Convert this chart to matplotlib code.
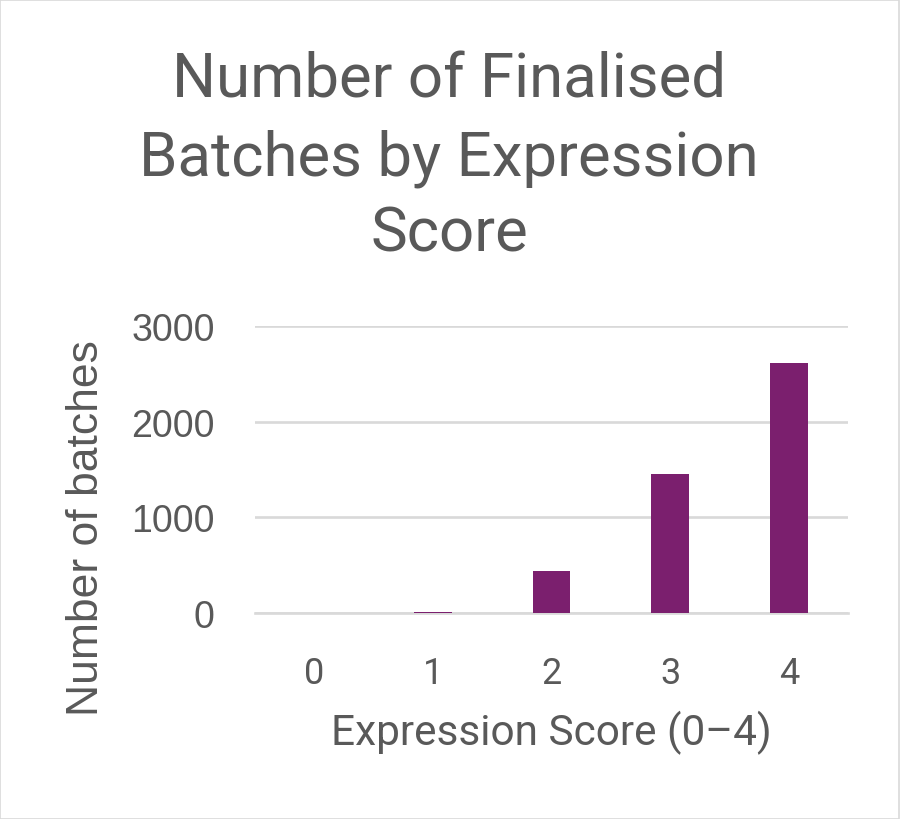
import numpy as np
import matplotlib
matplotlib.use("Agg")
import matplotlib.pyplot as plt
from matplotlib.patches import Rectangle

# data
scores = ["0", "1", "2", "3", "4"]
batches = [0, 15, 440, 1450, 2610]
y_ticks = [0, 1000, 2000, 3000]
title_lines = ["Number of Finalised", "Batches by Expression", "Score"]

text_grey = "#595959"
grid_grey = "#D9D9D9"
bar_purple = "#7B1F6E"

fig = plt.figure(figsize=(9, 8.2), dpi=100)
ax = fig.add_axes([255 / 900, 1 - 614 / 820, 593 / 900, 287 / 820])

x = np.arange(len(scores))
ax.bar(x, batches, width=0.32, color=bar_purple, zorder=3)

ax.set_xlim(-0.5, len(scores) - 0.5)
ax.set_ylim(0, 3000)
ax.set_xticks(x)
ax.set_xticklabels(scores, family="Roboto", fontsize=26, color=text_grey)
ax.set_yticks(y_ticks)
ax.set_yticklabels([str(v) for v in y_ticks], family="Liberation Sans",
                   fontsize=27, color=text_grey)
ax.tick_params(axis="both", length=0)
ax.tick_params(axis="x", pad=30)
ax.tick_params(axis="y", pad=29)

ax.yaxis.grid(True, color=grid_grey, linewidth=1.9, zorder=0)
ax.set_axisbelow(True)
for side in ["top", "right", "left"]:
    ax.spines[side].set_visible(False)
ax.spines["bottom"].set_color(grid_grey)
ax.spines["bottom"].set_linewidth(1.9)

ax.set_xlabel("Expression Score (0–4)", family="Roboto", fontsize=30.5,
              color=text_grey, labelpad=14)
ax.set_ylabel("Number of batches", family="Liberation Sans", fontsize=32,
              color=text_grey)
ax.yaxis.set_label_coords(-0.25, 0.30)

# three title lines placed by baseline
baselines = [97, 175, 252]
for line, yb in zip(title_lines, baselines):
    fig.text(449 / 900, 1 - yb / 820, line, family="Roboto", fontsize=44.5,
             color=text_grey, ha="center", va="baseline")

fig.patches.append(Rectangle((0.0005, 0.0005), 0.998, 0.998, transform=fig.transFigure,
                             fill=False, edgecolor=grid_grey, linewidth=1.2))

fig.savefig("out.png", dpi=100, facecolor="white")
